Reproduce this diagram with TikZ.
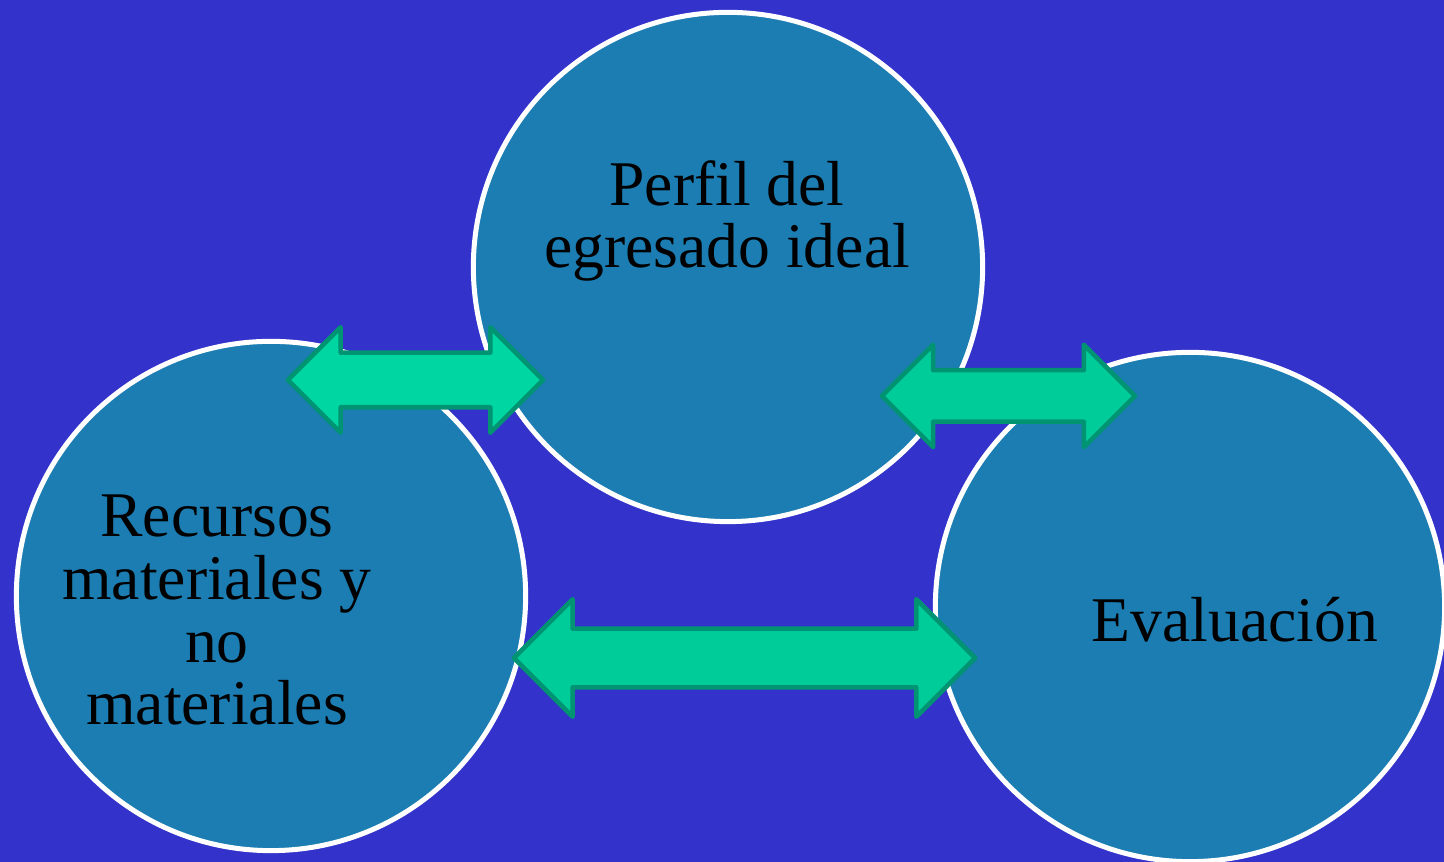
\documentclass[tikz,border=0pt]{standalone}
\usepackage{fontspec}
\setmainfont{Liberation Serif}
\usetikzlibrary{shapes.arrows}

\definecolor{fondo}{HTML}{3333CC}
\definecolor{burbuja}{HTML}{1B7DB2}
\definecolor{flecha}{HTML}{00CC99}
\definecolor{flechaclara}{HTML}{00D6A2}
\definecolor{bordeflecha}{HTML}{009473}

\tikzset{
  bubble/.style={circle, fill=burbuja, draw=white, line width=0.05cm, inner sep=0pt, minimum size=5.09cm},
  label text/.style={align=center, anchor=base, inner sep=0pt, font=\fontsize{18.1pt}{17.9pt}\selectfont},
  link/.style={double arrow, fill=flecha, draw=bordeflecha, line width=0.045cm, line join=round,
    double arrow tip angle=90, inner xsep=0pt, minimum width=0pt}
}

\begin{document}
\begin{tikzpicture}[x=0.01cm, y=-0.01cm]
	\fill[fondo] (0,0) rectangle (1444,862);
	\useasboundingbox (0,0) rectangle (1444,862);

            % the three bubbles
            \node[bubble] (perfil) at (728,267) {};
            \node[bubble] (recursos) at (271,596) {};
            \node[bubble] (evaluacion) at (1190,607) {};

            % base = last line
            \node[label text] (tperfil) at (727,268) {Perfil del\\egresado ideal};
            \node[label text] (trecursos) at (217,725) {Recursos\\materiales y\\no\\materiales};
            \node[label text] (tevaluacion) at (1235,642) {Evaluaci\'on};

            % arrows between them
            \node[link, fill=flechaclara, minimum height=2.55cm, inner ysep=0.25cm, double arrow head extend=0.255cm] (rp) at (415.5,380) {};
            \node[link, minimum height=2.53cm, inner ysep=0.235cm, double arrow head extend=0.255cm] (pe) at (1008.5,396) {};
            \node[link, minimum height=4.61cm, inner ysep=0.27cm, double arrow head extend=0.295cm] (re) at (744.5,658) {};
\end{tikzpicture}
\end{document}
